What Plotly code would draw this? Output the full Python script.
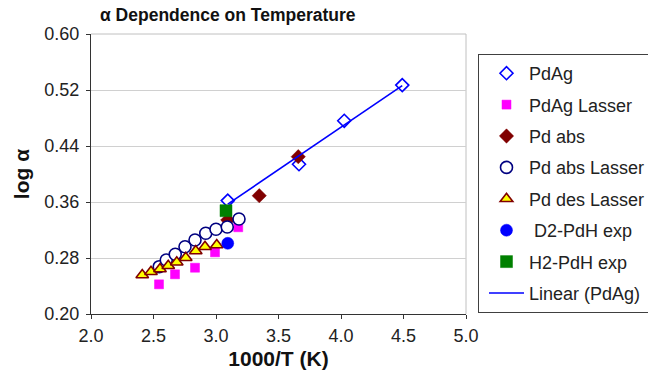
import numpy as np
import plotly.graph_objects as go

# Data
pdag_x = [3.094, 3.664, 4.026, 4.490]
pdag_y = [0.362, 0.414, 0.476, 0.527]

pdag_lasser_x = [2.544, 2.672, 2.832, 2.992, 3.178]
pdag_lasser_y = [0.2424, 0.2567, 0.2661, 0.2881, 0.3239]

pd_abs_x = [3.094, 3.346, 3.658]
pd_abs_y = [0.3343, 0.369, 0.4247]

pd_abs_lasser_x = [2.546, 2.602, 2.674, 2.752, 2.832, 2.918, 3.000, 3.090, 3.184]
pd_abs_lasser_y = [0.2676, 0.2771, 0.2853, 0.2961, 0.3057, 0.3153, 0.3210, 0.3243, 0.3357]

pd_des_lasser_x = [2.410, 2.480, 2.552, 2.618, 2.686, 2.758, 2.838, 2.912, 3.006]
pd_des_lasser_y = [0.2557, 0.2604, 0.2643, 0.2690, 0.2739, 0.2804, 0.2900, 0.2961, 0.2986]

d2_x = [3.094]
d2_y = [0.301]

h2_x = [3.080]
h2_y = [0.3476]

x_ticks = [2.0, 2.5, 3.0, 3.5, 4.0, 4.5, 5.0]
y_ticks = [0.20, 0.28, 0.36, 0.44, 0.52, 0.60]

# Linear trendline of PdAg
slope, intercept = np.polyfit(pdag_x, pdag_y, 1)
lin_x = [min(pdag_x), max(pdag_x)]
lin_y = [slope * v + intercept for v in lin_x]

FONT = "Liberation Sans, Arial, sans-serif"

fig = go.Figure()
fig.add_trace(go.Scatter(x=pdag_x, y=pdag_y, mode="markers", name="PdAg", legendgroup="a",
                         marker=dict(symbol="diamond", size=10, color="white",
                                     line=dict(color="#0000FF", width=1.6))))
fig.add_trace(go.Scatter(x=pdag_lasser_x, y=pdag_lasser_y, mode="markers", name="PdAg Lasser", legendgroup="b",
                         marker=dict(symbol="square", size=9, color="#FF00FF",
                                     line=dict(color="#FF00FF", width=0.5))))
fig.add_trace(go.Scatter(x=pd_abs_x, y=pd_abs_y, mode="markers", name="Pd abs", legendgroup="c",
                         marker=dict(symbol="diamond", size=11, color="#800000",
                                     line=dict(color="#800000", width=0.5))))
fig.add_trace(go.Scatter(x=pd_abs_lasser_x, y=pd_abs_lasser_y, mode="markers", name="Pd abs Lasser", legendgroup="d",
                         marker=dict(symbol="circle", size=12, color="white",
                                     line=dict(color="#000080", width=1.6))))
fig.add_trace(go.Scatter(x=pd_des_lasser_x, y=pd_des_lasser_y, mode="markers", name="Pd des Lasser", legendgroup="e",
                         marker=dict(symbol="triangle-up", size=11, color="#FFFF00",
                                     line=dict(color="#800000", width=1.6))))
fig.add_trace(go.Scatter(x=d2_x, y=d2_y, mode="markers", name=" D2-PdH exp", legendgroup="f",
                         marker=dict(symbol="circle", size=12, color="#0000FF",
                                     line=dict(color="#0000FF", width=0.5))))
fig.add_trace(go.Scatter(x=h2_x, y=h2_y, mode="markers", name="H2-PdH exp", legendgroup="g",
                         marker=dict(symbol="square", size=12, color="#008000",
                                     line=dict(color="#008000", width=0.5))))
fig.add_trace(go.Scatter(x=lin_x, y=lin_y, mode="lines", name="Linear (PdAg)", legendgroup="h",
                         line=dict(color="#0000FF", width=1.6)))

fig.update_layout(
    width=648, height=373,
    margin=dict(l=91, r=182, t=34, b=59, pad=0, autoexpand=False),
    paper_bgcolor="white", plot_bgcolor="white",
    font=dict(family=FONT, size=16, color="#222222"),
    title=dict(text="<b>α Dependence on Temperature</b>", x=100 / 648, xanchor="left",
               y=1 - 15 / 373, yanchor="middle", xref="container", yref="container",
               font=dict(family=FONT, size=17.5, color="#111111")),
    showlegend=True,
    legend=dict(x=1.032, xanchor="left", y=(314 - 54) / 280, yanchor="top",
                bordercolor="#404040", borderwidth=1, bgcolor="white",
                font=dict(family=FONT, size=18, color="#222222"),
                traceorder="grouped", tracegroupgap=5, indentation=5, itemwidth=35),
    xaxis=dict(range=[2.0, 5.0], tickvals=x_ticks, ticktext=[f"{v:.1f}" for v in x_ticks],
               showgrid=False, zeroline=False, showline=True, linecolor="#333333", linewidth=1,
               ticks="outside", ticklen=4, tickcolor="#333333", ticklabelstandoff=1,
               automargin=False,
               tickfont=dict(family=FONT, size=18, color="#222222"),
               title=dict(text="<b>1000/T (K)</b>", font=dict(family=FONT, size=21, color="#111111"),
                          standoff=6)),
    yaxis=dict(range=[0.20, 0.60], tickvals=y_ticks, ticktext=[f"{v:.2f}" for v in y_ticks],
               showgrid=True, gridcolor="#D0D0D0", gridwidth=1, zeroline=False,
               showline=True, linecolor="#333333", linewidth=1,
               ticks="outside", ticklen=4, tickcolor="#333333", ticklabelstandoff=3,
               automargin=False,
               tickfont=dict(family=FONT, size=18, color="#222222"),
               title=dict(text="<b>log α</b>", font=dict(family=FONT, size=21, color="#111111"),
                          standoff=9)),
    shapes=[
        dict(type="line", xref="paper", yref="paper", x0=1, x1=1, y0=0, y1=1,
             line=dict(color="#C0C0C0", width=1), layer="below"),
        dict(type="line", xref="paper", yref="paper", x0=0, x1=1, y0=1, y1=1,
             line=dict(color="#C0C0C0", width=1), layer="below"),
    ],
)

fig.write_html("out.html")
